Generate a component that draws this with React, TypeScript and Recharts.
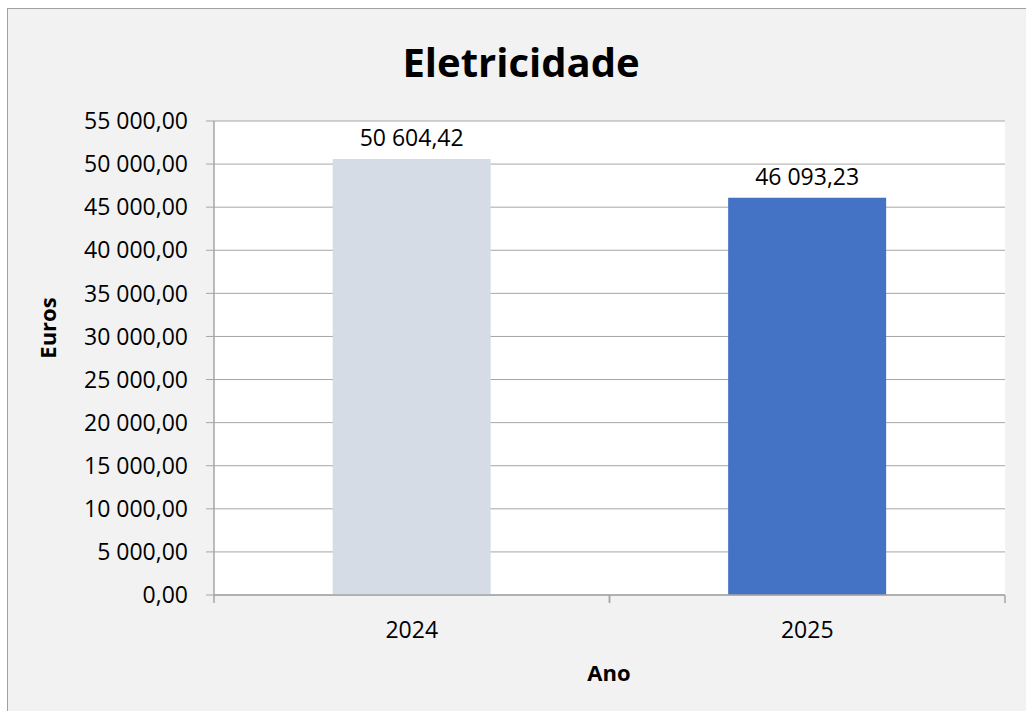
import React from "react";
import { BarChart, Bar, Cell, XAxis, YAxis, CartesianGrid, LabelList } from "recharts";

const years = ["2024", "2025"];
const euros = [50604.42, 46093.23];
const barColors = ["#d6dce5", "#4472c4"];
const yTicks = [0, 5000, 10000, 15000, 20000, 25000, 30000, 35000, 40000, 45000, 50000, 55000];

const data = years.map((year, i) => ({ year, value: euros[i] }));

const FONT = "'Open Sans', 'Noto Sans', sans-serif";
const GRID = "#a6a6a6";
const TICK_SIZE = 8;
const TICK_MARGIN = 19;

// 50604.42 -> "50 604,42"
const fmt = (v: number) => {
  const [int, dec] = Number(v).toFixed(2).split(".");
  return int.replace(/\B(?=(\d{3})+(?!\d))/g, " ") + "," + dec;
};

// category label in the middle, tick marks on the band edges (Excel style)
const CatTick = (props: any) => {
  const { x, y, payload } = props;
  const half = payload.offset || 0;
  const axisY = y - TICK_SIZE - TICK_MARGIN;
  return (
    <g>
      <line x1={x - half} x2={x - half} y1={axisY} y2={axisY + TICK_SIZE} stroke={GRID} strokeWidth={1.5} />
      <line x1={x + half} x2={x + half} y1={axisY} y2={axisY + TICK_SIZE} stroke={GRID} strokeWidth={1.5} />
      <text x={x} y={y} dy="0.71em" textAnchor="middle" fill="#000" fontSize={23} fontFamily={FONT}>
        {payload.value}
      </text>
    </g>
  );
};

export default function App() {
  return (
    <div
      style={{
        position: "fixed",
        left: 7,
        top: 8,
        width: 1019,
        height: 703,
        boxSizing: "border-box",
        borderTop: "1px solid #a0a0a0",
        borderLeft: "1px solid #a0a0a0",
        background: "#f2f2f2",
        overflow: "hidden",
        fontFamily: FONT,
        color: "#000",
      }}
    >
      <div
        style={{
          position: "absolute",
          left: 513,
          top: 53,
          transform: "translate(-50%, -50%)",
          fontSize: 40,
          fontWeight: 700,
          lineHeight: 1,
          whiteSpace: "nowrap",
        }}
      >
        Eletricidade
      </div>
      <div
        style={{
          position: "absolute",
          left: 39,
          top: 319,
          transform: "translate(-50%, -50%) rotate(-90deg)",
          fontSize: 22,
          fontWeight: 700,
          lineHeight: 1,
          whiteSpace: "nowrap",
        }}
      >
        Euros
      </div>
      <div
        style={{
          position: "absolute",
          left: 601,
          top: 663,
          transform: "translate(-50%, -50%)",
          fontSize: 22,
          fontWeight: 700,
          lineHeight: 1,
          whiteSpace: "nowrap",
        }}
      >
        Ano
      </div>
      <BarChart
        width={1018}
        height={702}
        data={data}
        margin={{ top: 112, right: 21, left: 6, bottom: 56 }}
        barCategoryGap="30%"
        style={{ position: "absolute", left: 0, top: 0 }}
      >
        <CartesianGrid vertical={false} stroke={GRID} fill="#ffffff" />
        <XAxis
          dataKey="year"
          height={60}
          tickLine={false}
          tickSize={TICK_SIZE}
          tickMargin={TICK_MARGIN}
          axisLine={{ stroke: GRID, strokeWidth: 1.5 }}
          tick={<CatTick />}
        />
        <YAxis
          width={200}
          domain={[0, 55000]}
          ticks={yTicks}
          tickFormatter={fmt}
          tickSize={8}
          tickMargin={18}
          tickLine={{ stroke: GRID }}
          axisLine={{ stroke: GRID, strokeWidth: 1.5 }}
          tick={{ fill: "#000", fontSize: 23, fontFamily: FONT }}
        />
        <Bar dataKey="value" isAnimationActive={false}>
          {data.map((d, i) => (
            <Cell key={d.year} fill={barColors[i]} />
          ))}
          <LabelList
            dataKey="value"
            position="top"
            offset={13}
            formatter={(v: any) => fmt(Number(v))}
            style={{ fill: "#000", fontSize: 23, fontFamily: FONT }}
          />
        </Bar>
      </BarChart>
    </div>
  );
}
